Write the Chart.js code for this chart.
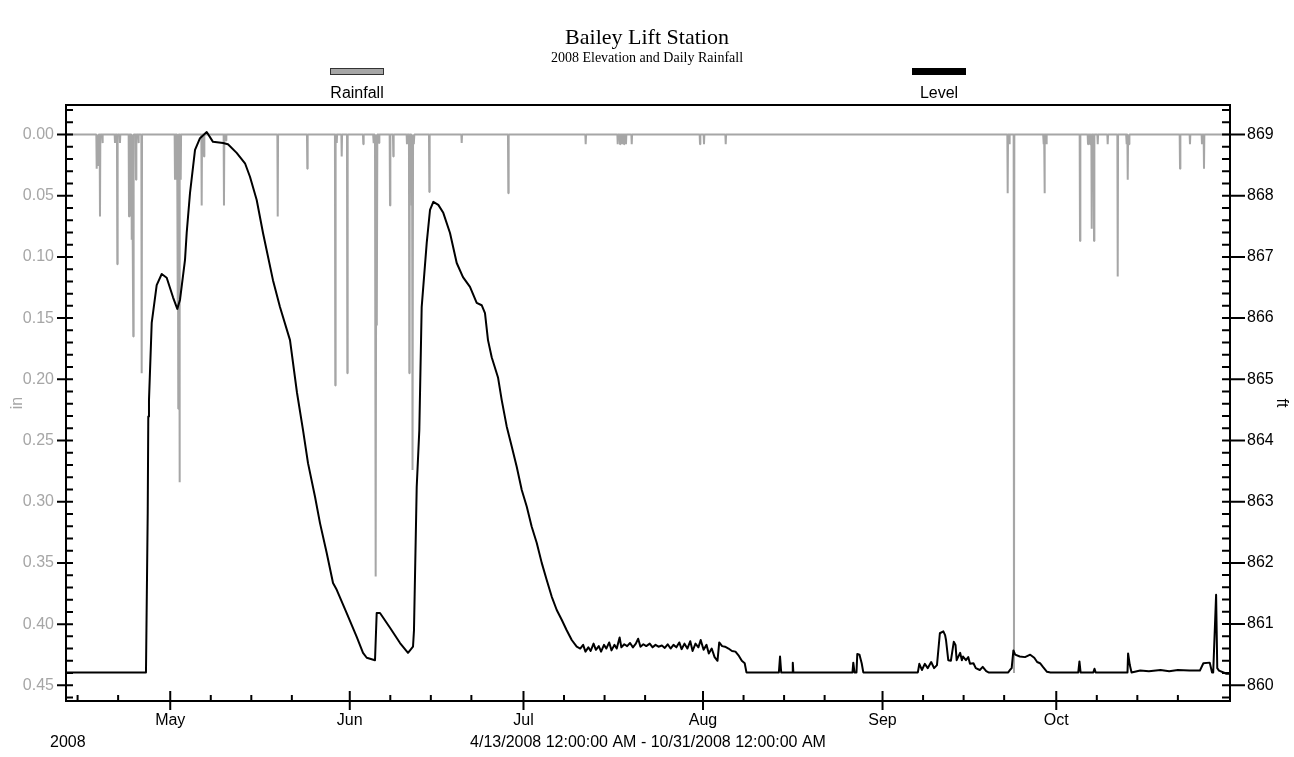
<!DOCTYPE html>
<html>
<head>
<meta charset="utf-8">
<title>Bailey Lift Station</title>
<script src="https://cdn.jsdelivr.net/npm/chart.js@4.4.1/dist/chart.umd.min.js"></script>
<style>
  html, body { margin:0; padding:0; background:#fff; }
</style>
</head>
<body>
<canvas id="chart" width="1294" height="757"></canvas>
<script>
// x values are days counted from 4/13/2008 12:00 AM
const levelDay = [0,13.81,14.11,14.21,14.33,14.80,15.66,16.53,17.39,18.48,19.22,19.69,20.55,20.84,21.41,22.28,23.14,24.30,25.38,27.11,27.97,29.47,30.91,31.77,32.93,34.02,35.74,36.95,38.68,39.89,40.93,41.79,43.00,43.86,45.02,46.11,46.75,48.47,50.20,51.29,51.93,53.36,53.65,54.22,55.95,57.68,59.06,59.92,60.09,60.56,61.01,61.42,62.29,62.86,63.43,64.29,65.15,66.31,67.47,68.55,69.76,70.92,71.78,72.35,72.87,73.51,74.60,75.24,76.10,76.97,77.83,78.70,79.56,80.42,81.28,82.15,83.01,83.87,84.74,85.60,86.46,87.33,88.19,
  88.8,89.3,89.7,90.2,90.6,91.1,91.5,92.0,92.4,92.9,93.3,93.8,94.2,94.7,95.1,95.6,95.9,96.4,96.9,97.4,97.9,98.4,98.8,99.2,99.7,100.2,100.8,101.3,101.8,102.3,102.9,103.4,103.9,104.4,104.9,105.4,105.9,106.3,106.8,107.3,107.8,108.2,108.7,109.2,109.6,110.1,110.6,111.0,111.5,112.0,112.5,112.8,113.3,113.8,114.4,115.0,115.6,116.2,116.7,117.2,117.5,
  123.1,123.3,123.5,125.4,125.5,125.6,135.81,135.95,136.16,136.50,136.64,137.02,137.40,137.68,
  147.1,147.35,147.8,148.3,148.8,149.4,149.9,150.4,150.9,151.5,151.8,151.96,152.35,152.8,153.3,153.6,153.8,154.4,154.7,154.9,155.4,155.8,156.1,156.7,157.1,157.8,158.3,158.9,159.3,
  162.7,163.0,163.3,163.6,163.9,164.7,165.6,166.5,167.2,167.7,168.2,168.7,169.4,170.0,
  174.8,175.0,175.2,177.4,177.6,177.8,183.3,183.4,183.7,184.0,185.5,187,189,190.5,192,194,195.8,196.4,197.5,197.9,198.1,198.6,198.8,199.1,200.1,200.3,201];
const levelFt = [860.21,860.21,862.81,864.39,864.66,865.92,866.54,866.72,866.66,866.34,866.15,866.30,866.95,867.39,868.04,868.75,868.94,869.04,868.88,868.86,868.84,868.70,868.53,868.31,867.93,867.39,866.62,866.18,865.64,864.78,864.17,863.63,863.08,862.65,862.16,861.67,861.56,861.18,860.79,860.53,860.45,860.41,861.18,861.18,860.94,860.69,860.53,860.63,860.90,863.24,864.17,866.18,867.23,867.77,867.90,867.85,867.72,867.39,866.90,866.67,866.51,866.25,866.21,866.08,865.64,865.36,865.03,864.66,864.23,863.90,863.57,863.19,862.92,862.59,862.33,862.00,861.72,861.45,861.23,861.07,860.90,860.74,860.63,
  860.60,860.66,860.55,860.62,860.56,860.68,860.58,860.64,860.55,860.66,860.60,860.70,860.57,860.66,860.60,860.78,860.62,860.67,860.64,860.69,860.62,860.68,860.76,860.63,860.67,860.64,860.68,860.62,860.66,860.63,860.65,860.61,860.67,860.60,860.66,860.62,860.70,860.59,860.68,860.60,860.72,860.56,860.68,860.62,860.74,860.58,860.66,860.52,860.60,860.46,860.40,860.70,860.64,860.63,860.60,860.56,860.55,860.48,860.40,860.36,860.21,
  860.21,860.47,860.21,860.21,860.37,860.21,860.21,860.37,860.21,860.21,860.51,860.50,860.36,860.21,
  860.21,860.35,860.25,860.35,860.28,860.38,860.28,860.33,860.85,860.88,860.82,860.74,860.41,860.40,860.71,860.66,860.41,860.53,860.41,860.47,860.41,860.46,860.35,860.36,860.28,860.25,860.30,860.23,860.21,
  860.21,860.25,860.28,860.57,860.50,860.47,860.46,860.50,860.45,860.38,860.36,860.30,860.22,860.21,
  860.21,860.39,860.21,860.21,860.27,860.21,860.21,860.52,860.33,860.21,860.24,860.23,860.25,860.23,860.25,860.24,860.24,860.36,860.37,860.21,860.21,861.48,860.28,860.24,860.20,860.19,860.19];

const rainDay = [5.30,5.58,5.87,6.30,8.46,8.86,9.32,10.88,11.14,11.35,11.62,12.09,12.52,13.07,18.82,19.08,19.25,19.39,19.60,19.81,23.43,23.83,27.28,27.63,36.56,41.67,46.50,46.75,47.61,48.58,51.34,53.10,53.36,53.53,53.70,54.05,55.95,56.52,58.88,59.28,59.70,59.87,60.09,62.74,68.33,76.38,89.74,95.27,95.67,96.01,96.36,96.70,97.69,109.48,110.17,113.92,162.61,162.92,163.70,168.80,168.97,169.31,175.10,176.48,176.83,177.12,177.52,178.16,179.88,181.61,183.13,183.34,183.57,192.37,194.09,196.16,196.51];
const rainIn = [0.028,0.025,0.067,0.007,0.007,0.106,0.007,0.067,0.067,0.086,0.165,0.037,0.007,0.195,0.037,0.037,0.14,0.224,0.284,0.037,0.058,0.018,0.058,0.005,0.067,0.028,0.205,0.007,0.018,0.195,0.008,0.007,0.007,0.361,0.156,0.007,0.058,0.018,0.008,0.195,0.058,0.274,0.008,0.047,0.007,0.048,0.008,0.008,0.008,0.008,0.008,0.008,0.008,0.008,0.008,0.008,0.048,0.008,0.44,0.008,0.048,0.008,0.087,0.008,0.008,0.077,0.087,0.008,0.008,0.116,0.008,0.037,0.008,0.028,0.008,0.008,0.028];

const monthDay = [18, 49, 79, 110, 141, 171];
const monthLabel = ["May", "Jun", "Jul", "Aug", "Sep", "Oct"];
const weekDay = [2, 9, 25, 32, 39, 56, 63, 70, 86, 93, 100, 117, 124, 131, 148, 155, 162, 178, 185, 192];
const inTicks = [0, 0.05, 0.10, 0.15, 0.20, 0.25, 0.30, 0.35, 0.40, 0.45];
const ftTicks = [860, 861, 862, 863, 864, 865, 866, 867, 868, 869];

const GRAY = "#a6a6a6";
const SANS = "'Liberation Sans', Arial, sans-serif";
const SERIF = "'Liberation Serif', 'Times New Roman', serif";

// rainfall is drawn as a line that drops from zero to each reading
const rainPts = [{x: 0, y: 0}];
rainDay.forEach((d, i) => {
    rainPts.push({x: d - 0.06, y: 0}, {x: d, y: rainIn[i]}, {x: d + 0.06, y: 0});
});
rainPts.push({x: 201, y: 0});

const framePlugin = {
    id: "frame",
    afterDatasetsDraw(chart) {
        const {ctx, chartArea: a, scales} = chart;
        ctx.save();
        ctx.strokeStyle = "#000";
        ctx.lineWidth = 2;
        ctx.strokeRect(a.left, a.top, a.right - a.left, a.bottom - a.top);

        ctx.beginPath();
        monthDay.forEach(d => {
            const x = scales.x.getPixelForValue(d);
            ctx.moveTo(x, a.bottom - 10); ctx.lineTo(x, a.bottom + 9);
        });
        weekDay.forEach(d => {
            const x = scales.x.getPixelForValue(d);
            ctx.moveTo(x, a.bottom - 6); ctx.lineTo(x, a.bottom);
        });
        // left axis, every 0.01 in
        for (let k = -2; k <= 46; k++) {
            const y = scales.yIn.getPixelForValue(k / 100);
            ctx.moveTo(k % 5 === 0 ? a.left - 9 : a.left, y);
            ctx.lineTo(a.left + 7, y);
        }
        // right axis, every 0.2 ft
        for (let k = -1; k <= 47; k++) {
            const y = scales.yFt.getPixelForValue(860 + k * 0.2);
            ctx.moveTo(a.right - 8, y);
            ctx.lineTo(k % 5 === 0 ? a.right + 15 : a.right, y);
        }
        ctx.stroke();
        ctx.restore();
    },
    afterDraw(chart) {
        const {ctx, chartArea: a} = chart;
        const cx = chart.width / 2;
        ctx.save();
        ctx.fillStyle = "#000";
        ctx.textAlign = "center";
        ctx.textBaseline = "middle";
        ctx.font = "22px " + SERIF;
        ctx.fillText("Bailey Lift Station", cx, 38);
        ctx.font = "14px " + SERIF;
        ctx.fillText("2008 Elevation and Daily Rainfall", cx, 58);

        // legend: swatch above label
        const w = a.right - a.left;
        const items = [
            {text: "Rainfall", x: a.left + w * 0.25, fill: GRAY, edge: "#333"},
            {text: "Level", x: a.left + w * 0.75, fill: "#000", edge: "#000"}
        ];
        items.forEach(it => {
            ctx.fillStyle = it.fill;
            ctx.fillRect(it.x - 26, 69, 52, 5);
            ctx.strokeStyle = it.edge;
            ctx.lineWidth = 1;
            ctx.strokeRect(it.x - 26.5, 68.5, 53, 6);
            ctx.fillStyle = "#000";
            ctx.font = "16px " + SANS;
            ctx.fillText(it.text, it.x, 94);
        });

        ctx.textAlign = "left";
        ctx.font = "16px " + SANS;
        ctx.fillText("2008", 50, 743);
        ctx.restore();
    }
};

new Chart(document.getElementById("chart"), {
    type: "line",
    data: {
        datasets: [
            {
                label: "Level",
                data: levelDay.map((d, i) => ({x: d, y: levelFt[i]})),
                yAxisID: "yFt",
                borderColor: "#000",
                borderWidth: 2,
                pointRadius: 0,
                tension: 0,
                borderJoinStyle: "round"
            },
            {
                label: "Rainfall",
                data: rainPts,
                yAxisID: "yIn",
                borderColor: GRAY,
                borderWidth: 2,
                pointRadius: 0,
                tension: 0,
                borderJoinStyle: "bevel"
            }
        ]
    },
    options: {
        responsive: false,
        animation: false,
        layout: {padding: {top: 105, left: 0, right: 0, bottom: 0}},
        plugins: {
            legend: {display: false},
            title: {display: false},
            tooltip: {enabled: false}
        },
        scales: {
            x: {
                type: "linear",
                min: 0,
                max: 201,
                grid: {display: false, drawTicks: false},
                border: {display: false},
                afterBuildTicks: s => { s.ticks = monthDay.map(v => ({value: v})); },
                afterFit: s => { s.height = 56; },
                ticks: {
                    autoSkip: false, maxRotation: 0, padding: 10, color: "#000",
                    font: {family: SANS, size: 16},
                    callback: (v, i) => monthLabel[i]
                },
                title: {
                    display: true,
                    text: "4/13/2008 12:00:00 AM - 10/31/2008 12:00:00 AM",
                    color: "#000",
                    font: {family: SANS, size: 16},
                    padding: {top: 0, bottom: 5}
                }
            },
            yIn: {
                type: "linear",
                position: "left",
                reverse: true,
                min: -0.0241,
                max: 0.4628,
                grid: {display: false, drawTicks: false},
                border: {display: false},
                afterBuildTicks: s => { s.ticks = inTicks.map(v => ({value: v})); },
                afterFit: s => { s.width = 66; },
                ticks: {
                    padding: 12, color: GRAY,
                    font: {family: SANS, size: 16},
                    callback: v => v.toFixed(2)
                },
                title: {
                    display: true, text: "in", color: GRAY,
                    font: {family: SANS, size: 16},
                    padding: {top: 8, bottom: 0}
                }
            },
            yFt: {
                type: "linear",
                position: "right",
                min: 859.743,
                max: 869.482,
                grid: {display: false, drawTicks: false},
                border: {display: false},
                afterBuildTicks: s => { s.ticks = ftTicks.map(v => ({value: v})); },
                afterFit: s => { s.width = 64; },
                ticks: {
                    padding: 17, color: "#000",
                    font: {family: SANS, size: 16},
                    callback: v => String(v)
                },
                title: {
                    display: true, text: "ft", color: "#000",
                    font: {family: SANS, size: 16},
                    padding: {top: 3, bottom: 0}
                }
            }
        }
    },
    plugins: [framePlugin]
});
</script>
</body>
</html>
